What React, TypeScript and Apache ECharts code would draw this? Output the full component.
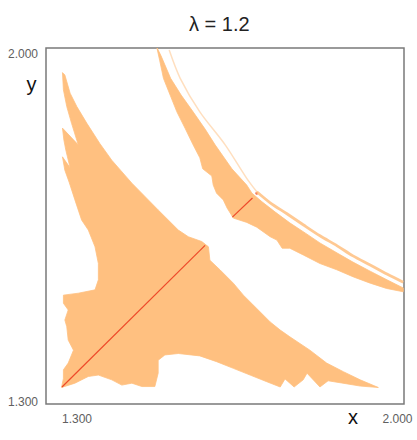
import React, { useEffect, useRef } from "react";
import * as echarts from "echarts";

// Axis ranges (data units) and tick labels
const X_RANGE = [1.2666, 2.0146];
const Y_RANGE = [1.2645, 2.0084];
const X_TICKS = [1.3, 2.0];
const Y_TICKS = [1.3, 2.0];
const TITLE = "λ = 1.2";

// Large lower-left region (data coordinates)
const REGION_A: number[][] = [
  [1.301, 1.957], [1.306, 1.952], [1.317, 1.914], [1.331, 1.886], [1.352, 1.851],
  [1.379, 1.809], [1.404, 1.774], [1.446, 1.726], [1.501, 1.670], [1.543, 1.628],
  [1.564, 1.614], [1.592, 1.604], [1.606, 1.593], [1.609, 1.565], [1.630, 1.545],
  [1.658, 1.517], [1.679, 1.492], [1.707, 1.464], [1.735, 1.436], [1.756, 1.419],
  [1.776, 1.405], [1.818, 1.377], [1.853, 1.350], [1.888, 1.332], [1.923, 1.315],
  [1.961, 1.299], [1.923, 1.302], [1.887, 1.308], [1.856, 1.313], [1.839, 1.300],
  [1.812, 1.329], [1.804, 1.315], [1.785, 1.300], [1.766, 1.317], [1.756, 1.300],
  [1.728, 1.311], [1.693, 1.325], [1.658, 1.339], [1.623, 1.353], [1.588, 1.365],
  [1.543, 1.370], [1.515, 1.367], [1.501, 1.356], [1.501, 1.329], [1.494, 1.301],
  [1.467, 1.301], [1.446, 1.308], [1.425, 1.304], [1.404, 1.315], [1.376, 1.325],
  [1.355, 1.322], [1.327, 1.308], [1.299, 1.299], [1.303, 1.318], [1.303, 1.336],
  [1.313, 1.350], [1.324, 1.377], [1.313, 1.398], [1.310, 1.426], [1.306, 1.440],
  [1.313, 1.461], [1.303, 1.475], [1.303, 1.492], [1.334, 1.496], [1.369, 1.503],
  [1.376, 1.524], [1.376, 1.558], [1.369, 1.593], [1.355, 1.628], [1.341, 1.649],
  [1.327, 1.691], [1.315, 1.728], [1.306, 1.753], [1.301, 1.781], [1.317, 1.758],
  [1.308, 1.795], [1.304, 1.816], [1.301, 1.841], [1.334, 1.806], [1.320, 1.851],
  [1.310, 1.886], [1.303, 1.921],
];

// Middle band (data coordinates)
const REGION_B: number[][] = [
  [1.498, 2.010], [1.507, 1.992], [1.527, 1.945], [1.549, 1.910], [1.574, 1.875],
  [1.599, 1.839], [1.620, 1.806], [1.655, 1.756], [1.686, 1.722], [1.697, 1.705],
  [1.718, 1.687], [1.745, 1.666], [1.776, 1.643], [1.808, 1.622], [1.839, 1.601],
  [1.875, 1.580], [1.908, 1.561], [1.944, 1.542], [1.979, 1.524], [2.013, 1.507],
  [2.013, 1.499], [1.978, 1.506], [1.944, 1.517], [1.909, 1.530], [1.874, 1.545],
  [1.839, 1.558], [1.804, 1.576], [1.776, 1.590], [1.760, 1.590], [1.749, 1.607],
  [1.735, 1.614], [1.707, 1.634], [1.686, 1.644], [1.658, 1.653], [1.645, 1.674],
  [1.637, 1.691], [1.623, 1.705], [1.616, 1.722], [1.613, 1.741], [1.594, 1.756],
  [1.588, 1.779], [1.574, 1.806], [1.557, 1.841], [1.540, 1.875], [1.526, 1.910],
  [1.512, 1.945], [1.504, 1.983],
];

// Thin outer arc
const ARC_TOP: number[][] = [
  [1.524, 2.004], [1.547, 1.945], [1.588, 1.875], [1.641, 1.806], [1.686, 1.736], [1.707, 1.708],
];
const ARC_BOTTOM: number[][] = [
  [1.707, 1.708], [1.735, 1.685], [1.770, 1.662], [1.804, 1.639], [1.839, 1.616],
  [1.875, 1.595], [1.908, 1.574], [1.944, 1.555], [1.979, 1.536], [2.013, 1.519],
];

// Diagonal segments (red)
const DIAG_1: number[][] = [[1.3, 1.3], [1.599, 1.596]];
const DIAG_2: number[][] = [[1.656, 1.655], [1.698, 1.695]];
const DIAG_DOT: number[][] = [[1.707, 1.705]];

const REGIONS = [REGION_A, REGION_B];

const FILL = "#FFC080";
const RED = "#EE4A2A";
const FONT = "Liberation Sans, Arial, sans-serif";
const TICK_COLOR = "#606060";

export default function App() {
  const ref = useRef<HTMLDivElement>(null);

  useEffect(() => {
    if (!ref.current) return;
    const chart = echarts.init(ref.current, null, { renderer: "svg" });
    const fmt = (v: number) => v.toFixed(3);
    chart.setOption({
      animation: false,
      backgroundColor: "#ffffff",
      title: {
        text: TITLE,
        left: 189,
        top: 14,
        padding: 0,
        textStyle: { fontFamily: FONT, fontSize: 20, fontWeight: "normal", color: "#222" },
      },
      grid: {
        left: 46,
        top: 48,
        width: 358,
        height: 356,
        show: true,
        borderColor: "#7a7a7a",
        borderWidth: 1.5,
        backgroundColor: "#ffffff",
      },
      xAxis: {
        type: "value",
        min: X_RANGE[0],
        max: X_RANGE[1],
        axisLine: { show: false },
        axisTick: { show: false },
        splitLine: { show: false },
        axisLabel: {
          customValues: X_TICKS,
          margin: 9,
          fontFamily: FONT,
          fontSize: 12,
          color: TICK_COLOR,
          formatter: (v: number) => (v < 1.5 ? `{lo|${fmt(v)}}` : `{hi|${fmt(v)}}`),
          rich: {
            lo: { padding: [0, 0, 0, 30], fontFamily: FONT, fontSize: 12, color: TICK_COLOR },
            hi: { padding: [0, 0, 0, 1], fontFamily: FONT, fontSize: 12, color: TICK_COLOR },
          },
        },
      },
      yAxis: {
        type: "value",
        min: Y_RANGE[0],
        max: Y_RANGE[1],
        axisLine: { show: false },
        axisTick: { show: false },
        splitLine: { show: false },
        axisLabel: {
          customValues: Y_TICKS,
          margin: 8,
          fontFamily: FONT,
          fontSize: 12,
          color: TICK_COLOR,
          formatter: (v: number) => (v < 1.5 ? `{lo|${fmt(v)}}` : `{hi|${fmt(v)}}`),
          rich: {
            lo: { padding: [30, 0, 0, 0], fontFamily: FONT, fontSize: 12, color: TICK_COLOR },
            hi: { padding: [3, 0, 0, 0], fontFamily: FONT, fontSize: 12, color: TICK_COLOR },
          },
        },
      },
      graphic: [
        {
          type: "text",
          x: 31.5,
          y: 84,
          style: { text: "y", fontFamily: FONT, fontSize: 20, fill: "#111", align: "center", verticalAlign: "middle" },
        },
        {
          type: "text",
          x: 353,
          y: 417,
          style: { text: "x", fontFamily: FONT, fontSize: 20, fill: "#111", align: "center", verticalAlign: "middle" },
        },
      ],
      series: [
        {
          type: "custom",
          clip: true,
          data: REGIONS.map((r, i) => [r[0][0], r[0][1], i]),
          encode: { x: 0, y: 1 },
          renderItem: (params: any, api: any) => {
            const idx = api.value(2);
            const pts = REGIONS[idx].map((p) => api.coord(p));
            return { type: "polygon", shape: { points: pts }, style: { fill: FILL, stroke: FILL, lineWidth: 0.8 } };
          },
        },
        {
          type: "line",
          data: ARC_TOP,
          smooth: 0.3,
          showSymbol: false,
          symbol: "none",
          lineStyle: { color: FILL, width: 1.5, opacity: 0.5 },
        },
        {
          type: "line",
          data: ARC_BOTTOM,
          smooth: 0.3,
          showSymbol: false,
          symbol: "none",
          lineStyle: { color: FILL, width: 2.8, opacity: 0.85 },
        },
        {
          type: "line",
          data: DIAG_1,
          showSymbol: false,
          symbol: "none",
          lineStyle: { color: RED, width: 1.2 },
        },
        {
          type: "line",
          data: DIAG_2,
          showSymbol: false,
          symbol: "none",
          lineStyle: { color: RED, width: 1.2 },
        },
        {
          type: "scatter",
          data: DIAG_DOT,
          symbolSize: 3,
          itemStyle: { color: RED },
        },
      ],
    });
    return () => chart.dispose();
  }, []);

  return (
    <div
      ref={ref}
      style={{ position: "fixed", left: 0, top: 0, width: 417, height: 440 }}
    />
  );
}
